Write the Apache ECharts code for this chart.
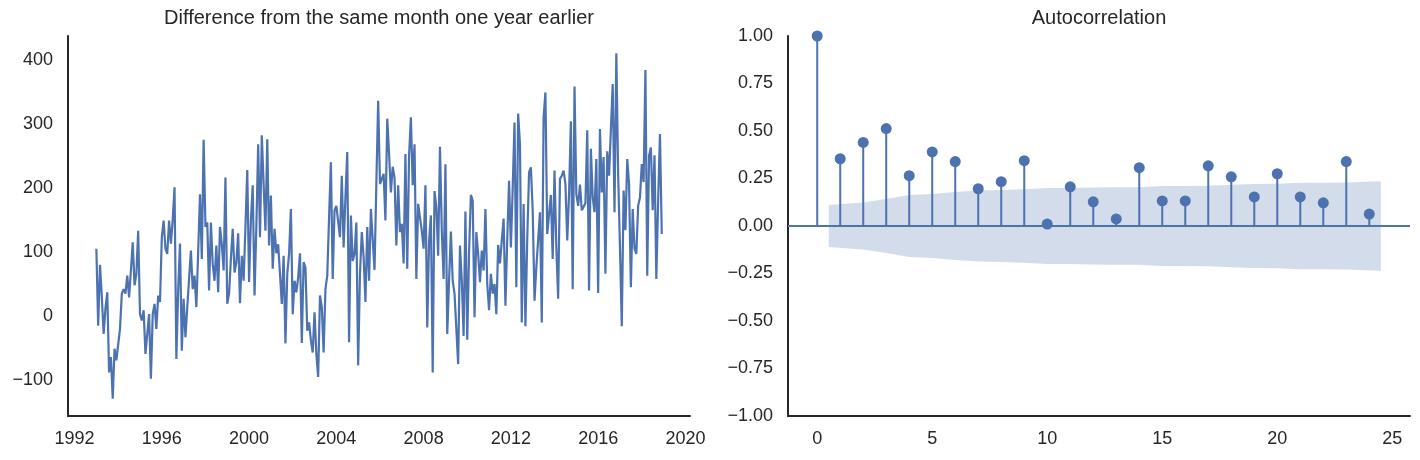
<!DOCTYPE html>
<html>
<head>
<meta charset="utf-8">
<script src="https://cdn.jsdelivr.net/npm/echarts@6/dist/echarts.min.js"></script>
<style>
html,body{margin:0;padding:0;background:#fff;}
#chart{width:1420px;height:460px;}
</style>
</head>
<body>
<div id="chart"></div>
<script>
// ---- Data ----
// Monthly series: difference from the same month one year earlier (Jan 1993 onward)
const startYear = 1993;
const diffValues = [
105,-15,80,30,-28,12,37,-88,-64,-129,-51,-69,
-67,-20,35,42,35,63,29,71,115,48,66,133,
3,-7,9,-59,-28,3,-98,3,19,-20,32,22,
123,149,105,97,149,113,150,201,-67,40,113,-54,
27,-33,14,16,102,42,63,14,100,190,89,275,
139,146,40,146,81,55,110,37,139,112,71,216,
19,35,89,136,68,84,129,20,94,55,139,228,
53,149,204,32,139,268,123,282,206,133,276,110,
188,74,136,98,112,111,19,94,-43,66,97,167,
3,55,37,60,98,-42,84,76,-23,-10,-38,-57,
6,-59,-95,32,14,-57,42,63,154,240,58,165,
172,172,123,219,107,185,256,-41,157,86,97,146,
-77,66,131,92,22,139,55,167,165,72,206,336,
206,204,222,149,308,253,193,233,216,110,204,131,
144,82,253,74,250,310,204,268,58,175,154,133,
105,204,-18,117,157,-88,195,170,94,264,133,58,
237,-28,55,132,55,35,37,-75,110,55,-31,163,
-37,100,189,180,-2,131,97,53,102,71,167,50,
9,66,35,50,3,111,82,118,152,16,120,211,
107,200,302,45,316,268,-10,175,-16,120,224,232,
165,24,76,76,162,-10,310,349,128,159,189,89,
227,107,27,214,219,227,206,118,190,304,42,358,
190,172,205,165,167,176,290,40,261,185,162,245,
36,292,193,248,66,257,219,219,362,162,410,222,
107,-16,196,134,245,206,45,167,105,97,172,185,
237,209,384,63,250,263,165,251,58,180,284,128
];
// Autocorrelation
const acfLags = [0,1,2,3,4,5,6,7,8,9,10,11,12,13,14,15,16,17,18,19,20,21,22,23,24];
const acfValues = [1.0,0.354,0.44,0.513,0.265,0.39,0.339,0.196,0.233,0.344,0.01,0.206,0.127,0.037,0.307,0.132,0.132,0.317,0.259,0.153,0.275,0.153,0.122,0.339,0.063];
// Confidence band (half-width), drawn from lag 0.5 to 24.5
const bandX = [0.5,2,3,4,5,6,7,8,9,10,11,12,13,14,15,16,17,18,19,20,21,22,23,24.5];
const bandHalf = [0.111,0.124,0.142,0.163,0.168,0.179,0.187,0.190,0.193,0.200,0.200,0.203,0.204,0.204,0.210,0.211,0.212,0.217,0.221,0.222,0.227,0.228,0.229,0.235];
// Tick labels
const leftXTicks = [1992,1996,2000,2004,2008,2012,2016,2020];
const leftYTicks = [-100,0,100,200,300,400];
const rightXTicks = [0,5,10,15,20,25];
const titles = ['Difference from the same month one year earlier','Autocorrelation'];

// ---- Chart ----
const BLUE = '#4C72B0';
const INK = '#262626';
const FONT = "'Liberation Sans', Arial, 'DejaVu Sans', sans-serif";
const minus = s => String(s).replace('-', '\u2212');

const lineData = diffValues.map((v, i) => [startYear + i / 12, v]);
const acfData = acfLags.map((l, i) => [l, acfValues[i]]);
const bandData = bandX.map((x, i) => [x, bandHalf[i]]);

const axisLine = {show: true, onZero: false, lineStyle: {color: INK, width: 2}};
const labelStyle = {color: INK, fontSize: 18, fontFamily: FONT};

const chart = echarts.init(document.getElementById('chart'), null, {renderer: 'canvas'});
chart.setOption({
  animation: false,
  backgroundColor: '#ffffff',
  title: [
    {text: titles[0], left: 379, top: 8, padding: 0, textAlign: 'center',
     textStyle: {fontSize: 20, fontWeight: 'normal', color: INK, fontFamily: FONT}},
    {text: titles[1], left: 1099, top: 8, padding: 0, textAlign: 'center',
     textStyle: {fontSize: 20, fontWeight: 'normal', color: INK, fontFamily: FONT}}
  ],
  grid: [
    {left: 68, top: 36, width: 622, height: 380},
    {left: 788, top: 36, width: 622, height: 380}
  ],
  xAxis: [
    {type: 'value', gridIndex: 0, min: 1991.70, max: 2020.21,
     axisLine: axisLine, axisTick: {show: false}, splitLine: {show: false},
     axisLabel: Object.assign({customValues: leftXTicks, margin: 14,
       formatter: v => String(Math.round(v))}, labelStyle)},
    {type: 'value', gridIndex: 1, min: -1.27, max: 25.77,
     axisLine: axisLine, axisTick: {show: false}, splitLine: {show: false},
     axisLabel: Object.assign({customValues: rightXTicks, margin: 14,
       formatter: v => String(Math.round(v))}, labelStyle)}
  ],
  yAxis: [
    {type: 'value', gridIndex: 0, min: -156, max: 437,
     axisLine: axisLine, axisTick: {show: false}, splitLine: {show: false},
     axisLabel: Object.assign({customValues: leftYTicks, margin: 15,
       formatter: v => minus(Math.round(v))}, labelStyle)},
    {type: 'value', gridIndex: 1, min: -1, max: 1, interval: 0.25,
     axisLine: axisLine, axisTick: {show: false}, splitLine: {show: false},
     axisLabel: Object.assign({margin: 15,
       formatter: v => minus(v.toFixed(2))}, labelStyle)}
  ],
  series: [
    {type: 'line', xAxisIndex: 0, yAxisIndex: 0, data: lineData,
     showSymbol: false, symbol: 'none', lineStyle: {color: BLUE, width: 2.2}, z: 3},
    {type: 'custom', xAxisIndex: 1, yAxisIndex: 1, data: bandData, z: 1,
     renderItem: function (params, api) {
       if (params.dataIndex !== 0) return null;
       const pts = [];
       for (let i = 0; i < bandX.length; i++) pts.push(api.coord([bandX[i], bandHalf[i]]));
       for (let i = bandX.length - 1; i >= 0; i--) pts.push(api.coord([bandX[i], -bandHalf[i]]));
       return {type: 'polygon', shape: {points: pts}, style: {fill: 'rgba(76,114,176,0.25)'}};
     }},
    {type: 'custom', xAxisIndex: 1, yAxisIndex: 1, data: acfData, z: 2,
     renderItem: function (params, api) {
       const p0 = api.coord([api.value(0), 0]);
       const p1 = api.coord([api.value(0), api.value(1)]);
       return {type: 'line', shape: {x1: p0[0], y1: p0[1], x2: p1[0], y2: p1[1]},
               style: {stroke: BLUE, lineWidth: 2}};
     }},
    {type: 'scatter', xAxisIndex: 1, yAxisIndex: 1, data: acfData, z: 4,
     symbol: 'circle', symbolSize: 11, itemStyle: {color: BLUE, opacity: 1},
     markLine: {silent: true, symbol: ['none', 'none'], label: {show: false},
       lineStyle: {color: BLUE, width: 2, type: 'solid'}, data: [{yAxis: 0}]}}
  ]
});
</script>
</body>
</html>
